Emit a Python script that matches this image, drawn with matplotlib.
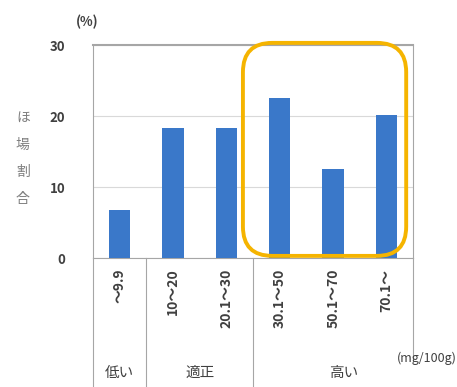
import matplotlib
matplotlib.use('Agg')
from matplotlib import pyplot as plt
from matplotlib.patches import FancyBboxPatch
from matplotlib.transforms import blended_transform_factory

plt.rcParams['font.family'] = ['Noto Sans CJK JP', 'DejaVu Sans']

categories = ['～9.9', '10～20', '20.1～30', '30.1～50', '50.1～70', '70.1～']
values = [6.8, 18.3, 18.3, 22.6, 12.5, 20.1]
groups = ['低い', '適正', '高い']
group_bounds = [(-0.5, 0.5), (0.5, 2.5), (2.5, 5.5)]

text_color = '#404040'
bar_color = '#3a78c9'
line_color = '#a6a6a6'

fig = plt.figure(figsize=(4.57, 3.87), dpi=100)
ax = fig.add_axes([0.2035, 0.3333, 0.7005, 0.5504])

x = list(range(len(categories)))
ax.bar(x, values, width=0.4, color=bar_color, zorder=3)

ax.set_xlim(-0.5, 5.5)
ax.set_ylim(0, 30)
ax.set_yticks([0, 10, 20, 30])
ax.set_yticklabels(['0', '10', '20', '30'], color=text_color, fontsize=9.5,
                   fontweight='bold')
ax.tick_params(axis='y', length=0, pad=20)
ax.yaxis.grid(True, color='#d9d9d9', linewidth=0.8, zorder=0)

ax.set_xticks([])
for s in ['left', 'right', 'bottom']:
    ax.spines[s].set_color(line_color)
    ax.spines[s].set_linewidth(0.8)
ax.spines['top'].set_color(line_color)
ax.spines['top'].set_linewidth(1.5)

trans = blended_transform_factory(ax.transData, ax.transAxes)
for i, lab in enumerate(categories):
    ax.text(i, -0.05, lab, rotation=90, ha='center', va='top',
            transform=trans, color=text_color, fontsize=10, fontweight='bold')

for lo, hi in group_bounds:
    ax.plot([lo, lo], [0, -0.6], transform=trans, color=line_color,
            linewidth=0.8, clip_on=False)
ax.plot([5.5, 5.5], [0, -0.48], transform=trans, color=line_color,
        linewidth=0.8, clip_on=False)

group_x = [0.0, 1.5, 4.2]
for gx, g in zip(group_x, groups):
    ax.text(gx, -0.54, g, ha='center', va='center', transform=trans,
            color=text_color, fontsize=10.5)
ax.text(5.75, -0.47, '(mg/100g)', ha='center', va='center', transform=trans,
        color=text_color, fontsize=9)

ax.text(-0.6, 1.11, '(%)', ha='center', va='center', transform=trans,
        color=text_color, fontsize=9.5, fontweight='bold')
fig.text(0.05, 0.59, 'ほ\n場\n割\n合', ha='center', va='center',
         color='#7f7f7f', fontsize=10, linespacing=2.2)

rect = FancyBboxPatch((2.31, 0.3), 3.06, 30.0,
                      boxstyle='round,pad=0,rounding_size=0.55',
                      mutation_aspect=7.5, fill=False, edgecolor='#f5b400',
                      linewidth=2.8, zorder=5, clip_on=False)
ax.add_patch(rect)

plt.savefig('out.png', dpi=100)
